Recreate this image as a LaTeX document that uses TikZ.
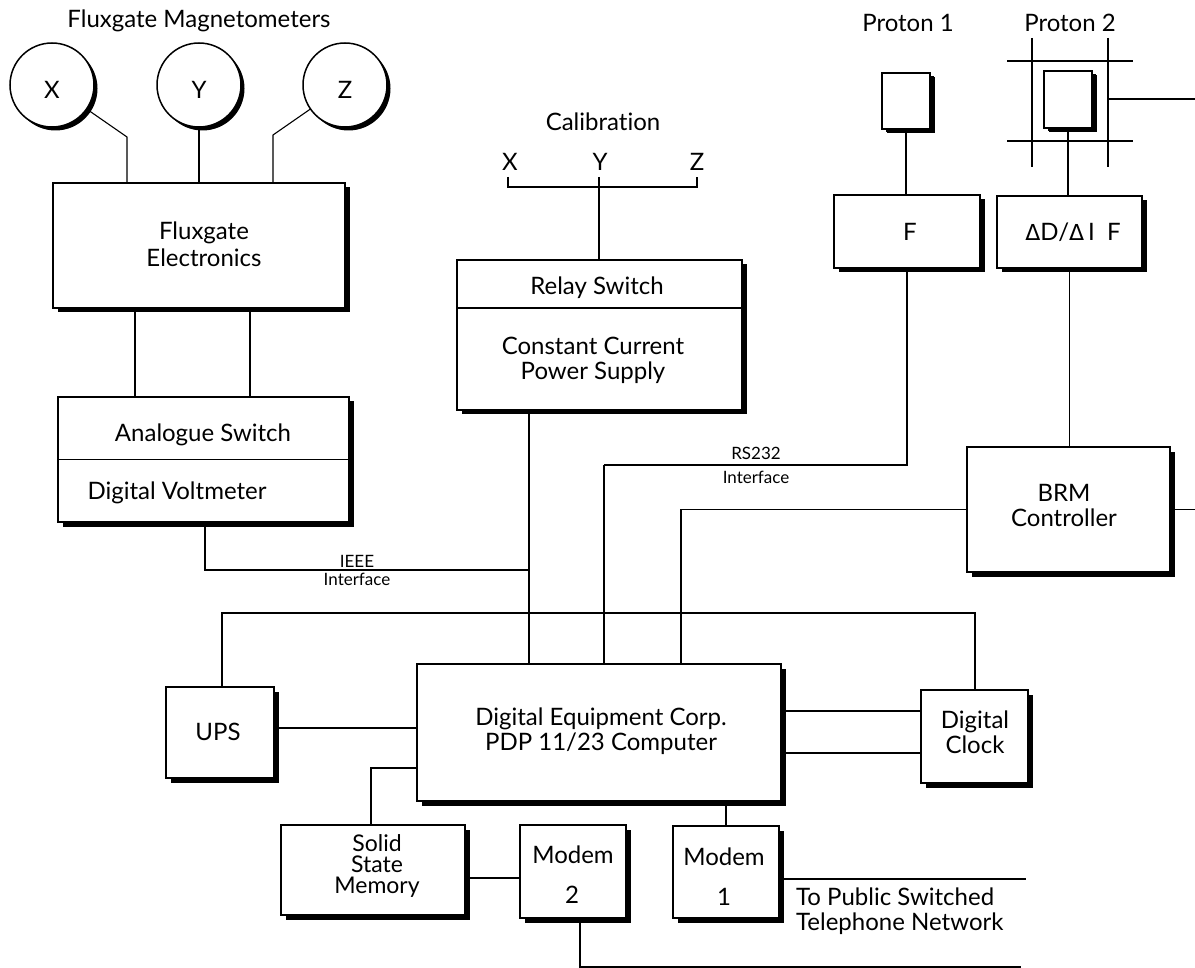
\documentclass[tikz,border=0pt]{standalone}
\usepackage{fontspec}
\setmainfont{Lato}[Ligatures=NoCommon]
\newfontfamily\dejavu{DejaVu Sans}
\usetikzlibrary{shadows,calc}
\begin{document}
\begin{tikzpicture}[x=1pt,y=-1pt,
  box/.style={draw, line width=1.5pt, fill=white, inner sep=0pt, align=center,
    drop shadow={shadow xshift=4.5pt, shadow yshift=-4.5pt, fill=black, opacity=1}},
  mag/.style={circle, draw, line width=1.5pt, fill=white, inner sep=0pt, minimum size=84pt,
    drop shadow={shadow xshift=3.5pt, shadow yshift=-3.5pt, fill=black, opacity=1}},
  conn/.style={line width=1.1pt},
  gridl/.style={line width=1.6pt},
  lbl/.style={inner sep=0pt, align=center, font=\fontsize{24}{25}\selectfont},
  small/.style={inner sep=0pt, align=center, font=\fontsize{17}{18}\selectfont}]
\useasboundingbox[fill=white] (0,0) rectangle (1195,968);

% Fluxgate magnetometers
\node[lbl] (ttl) at (199,21) {Fluxgate Magnetometers};
\node[mag] (cx) at (52,85) {};
\node[mag] (cy) at (199,85) {};
\node[mag] (cz) at (345,85) {};
\node[lbl] (tx) at (52,90) {X};
\node[lbl] (ty) at (199,90) {Y};
\node[lbl] (tz) at (345,90) {Z};

\node[box, minimum width=292pt, minimum height=125pt] (fe) at (199,245.5) {};
\node[lbl, font=\fontsize{24}{27}\selectfont] (fet) at (204,244) {Fluxgate\\Electronics};

\coordinate (xj) at (127,137);
\coordinate (zj) at (273,135);
\draw[conn] (cx) -- (xj) -- (xj |- fe.north);
\draw[conn] (cy) -- (cy |- fe.north);
\draw[conn] (cz) -- (zj) -- (zj |- fe.north);

% Analogue switch / DVM
\node[box, minimum width=291pt, minimum height=125pt] (as) at (203.5,459.5) {};
\draw[line width=1.5pt] (as.west) -- (as.east);
\node[lbl] (ast) at (203,435) {Analogue Switch};
\node[lbl] (dvm) at (177,493) {Digital Voltmeter};
\draw[conn] ([xshift=-64pt]fe.south) -- ([xshift=-64pt]fe.south |- as.north);
\draw[conn] ([xshift=51pt]fe.south) -- ([xshift=51pt]fe.south |- as.north);

% Calibration
\node[lbl] (calt) at (603,122) {Calibration};
\node[lbl] (calxt) at (510,162) {X};
\node[lbl] (calyt) at (600,162) {Y};
\node[lbl] (calzt) at (697,162) {Z};
\coordinate (calx) at (508,177);
\coordinate (caly) at (599,177);
\coordinate (calz) at (697,177);
\coordinate (cbar) at (599,187);
\draw[conn, line width=1.3pt] (calx) |- (cbar) -| (calz);

\node[box, minimum width=285pt, minimum height=150pt] (relay) at (599.5,335) {};
\draw[line width=1.5pt] ($(relay.north west)+(0,49)$) -- ($(relay.north east)+(0,49)$);
\node[lbl] (relt) at (597,288) {Relay Switch};
\node[lbl] (cct) at (593,360) {Constant Current\\Power Supply};
\draw[conn] (caly) -- (caly |- relay.north);

% IEEE
\coordinate (ieee) at (529,570);
\draw[conn] ([xshift=1.5pt]as.south) |- (ieee);
\node[small] (ieeet) at (357,561) {IEEE};
\node[small] (ieeet2) at (357,579) {Interface};

% Proton 1
\node[lbl] (p1t) at (908,23) {Proton 1};
\node[box, minimum width=48pt, minimum height=56pt, drop shadow={shadow xshift=3.5pt, shadow yshift=-3.5pt, fill=black, opacity=1}] (p1box) at (906,101) {};
\node[box, minimum width=146pt, minimum height=73pt] (f) at (907,231.5) {};
\node[lbl] (ft) at (910,232) {F};
\draw[conn] (p1box.south) -- (p1box.south |- f.north);

% Proton 2
\node[lbl] (p2t) at (1070,23) {Proton 2};
\draw[gridl] (1032,38) -- (1032,167);
\draw[gridl] (1108,38) -- (1108,167);
\draw[gridl] (1007,61) -- (1133,61);
\draw[gridl] (1007,141) -- (1133,141);
\node[box, minimum width=48pt, minimum height=57pt, drop shadow={shadow xshift=3.5pt, shadow yshift=-3.5pt, fill=black, opacity=1}] (p2box) at (1068,99.5) {};
\coordinate (gr) at (1108,99);
\coordinate (gre) at (1195,99);
\draw[conn, line width=1.3pt] (gr) -- (gre);
\node[box, minimum width=145pt, minimum height=72pt] (dd) at (1069.5,232) {};
\node[lbl] (ddt) at (1073,232) {{\dejavu\fontsize{22}{24}\selectfont Δ}D/{\dejavu\fontsize{22}{24}\selectfont Δ}\,I\ \ F};
\draw[conn] (p2box.south) -- (p2box.south |- dd.north);

% RS232
\coordinate (rs) at (604,465);
\draw[conn] (f.south) |- (rs);
\node[small] (rst) at (756,453) {RS232};
\node[small] (rst2) at (756,477) {Interface};

% BRM
\node[box, minimum width=203pt, minimum height=125pt] (brm) at (1068.5,509.5) {};
\node[lbl] (brmt) at (1064,505) {BRM\\Controller};
\draw[conn] (dd.south) -- (dd.south |- brm.north);
\coordinate (bj) at (681,509.5);
\coordinate (bre) at (1195,509.5);
\draw[conn] (brm.east) -- (bre);

% PDP
\node[box, minimum width=364pt, minimum height=137pt] (pdp) at (599,732.5) {};
\node[lbl] (pdpt) at (601,731) {Digital Equipment Corp.\\PDP 11/23 Computer};
\draw[conn] (brm.west) -- (bj) -- (bj |- pdp.north);
\draw[conn] (rs) -- (rs |- pdp.north);
\draw[conn] ([xshift=-70.5pt]relay.south) -- ([xshift=-70.5pt]relay.south |- pdp.north);

% UPS and clock
\node[box, minimum width=108pt, minimum height=91pt] (ups) at (220,732.5) {};
\node[lbl] (upst) at (218,732) {UPS};
\node[box, minimum width=107pt, minimum height=93pt] (clock) at (974.5,736.5) {};
\node[lbl] (clockt) at (975,732) {Digital\\Clock};
\coordinate (busl) at (222,613);
\coordinate (busr) at (975,613);
\draw[conn] (busl |- ups.north) -- (busl) -- (busr) -- (busr |- clock.north);
\draw[conn] ([yshift=4.5pt]ups.east) -- ([yshift=4.5pt]ups.east -| pdp.west);
\draw[conn] ([yshift=21.5pt]pdp.east) -- ([yshift=21.5pt]pdp.east -| clock.west);
\draw[conn] ([yshift=-20.5pt]pdp.east) -- ([yshift=-20.5pt]pdp.east -| clock.west);

% Memory and modems
\node[box, minimum width=184pt, minimum height=90pt] (ssm) at (373,870) {};
\node[inner sep=0pt, align=center, font=\fontsize{23}{21}\selectfont] (ssmt) at (377,866) {Solid\\State\\Memory};
\node[box, minimum width=106pt, minimum height=93pt] (m2) at (573,871.5) {};
\node[lbl] (m2t) at (573,855) {Modem};
\node[lbl] (m2n) at (572,895) {2};
\node[box, minimum width=106pt, minimum height=92pt] (m1) at (726,872) {};
\node[lbl] (m1t) at (724,857) {Modem};
\node[lbl] (m1n) at (724,897) {1};
\draw[conn] ([yshift=-35.5pt]pdp.west) -| ([xshift=-2pt]ssm.north);
\draw[conn] ([yshift=-8pt]ssm.east) -- ([yshift=-8pt]ssm.east -| m2.west);
\draw[conn] (m1.north) -- (m1.north |- pdp.south);
\coordinate (tel) at (1026,879);
\draw[conn] ([yshift=-7pt]m1.east) -- (tel);
\coordinate (m2b) at (1021,967);
\draw[conn] ([xshift=7pt]m2.south) |- (m2b);
\node[lbl, align=left, anchor=west] (telt) at (796,911.5) {To Public Switched\\Telephone Network};
\end{tikzpicture}
\end{document}
